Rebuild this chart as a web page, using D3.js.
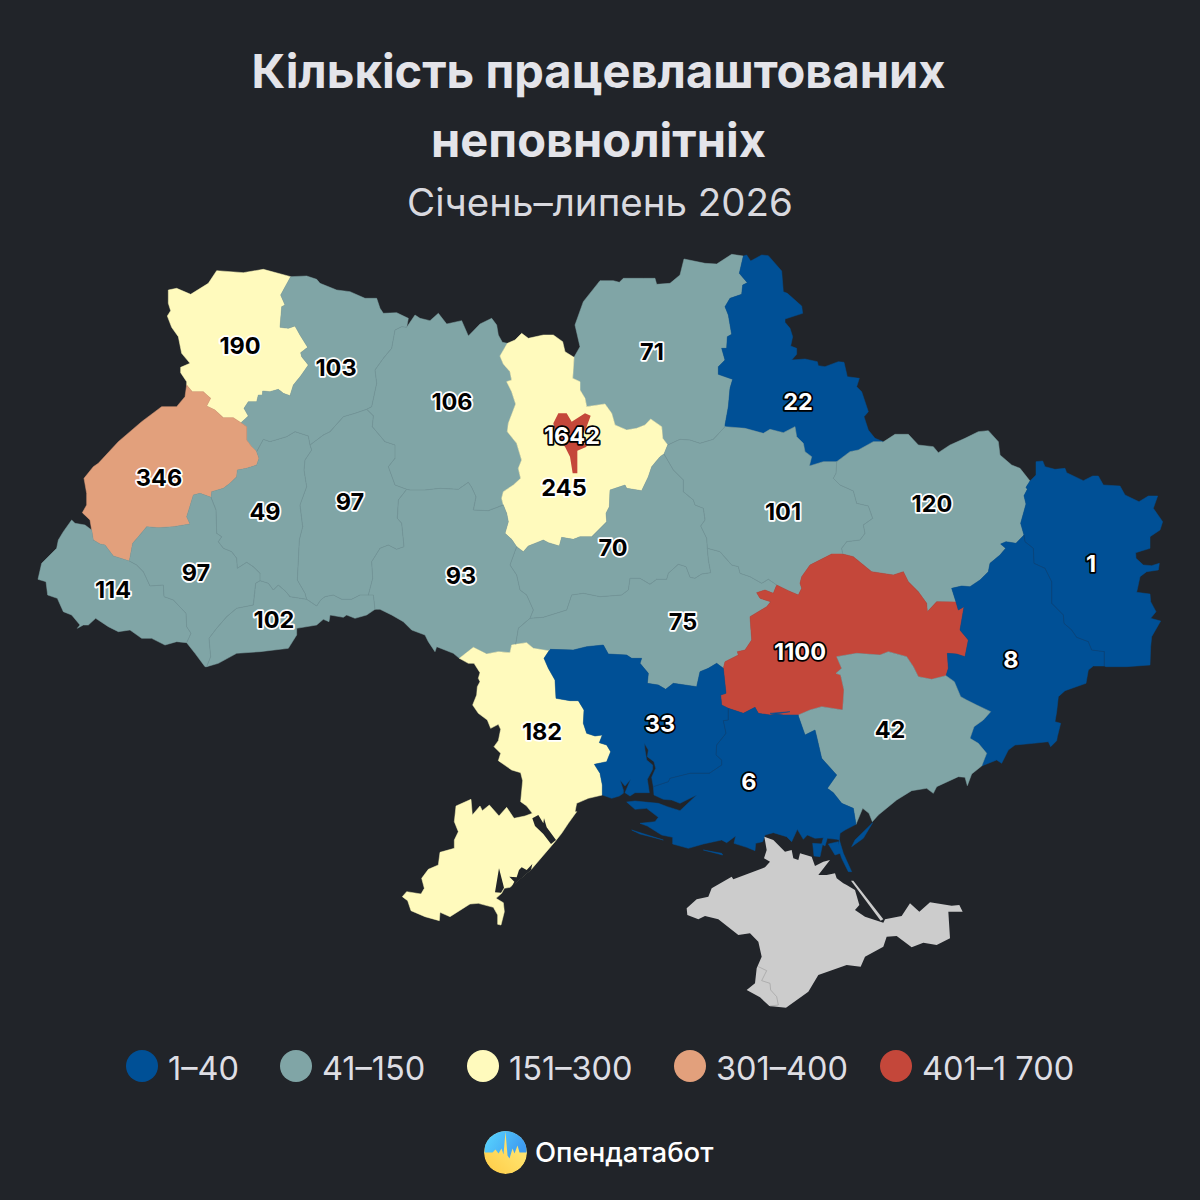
<!DOCTYPE html>
<html>
<head>
<meta charset="utf-8">
<script src="https://cdn.jsdelivr.net/npm/d3@7"></script>
<style>
  html, body { margin: 0; padding: 0; background: #212429; }
  svg { display: block; }
  text { font-family: Inter, "Noto Sans", sans-serif; }
</style>
</head>
<body>
<svg id="chart" width="1200" height="1200"></svg>
<script>
// values
const titleLines = ['Кількість працевлаштованих', 'неповнолітніх'];
const subtitle = 'Січень–липень 2026';
const brand = 'Опендатабот';
const legendLabels = ['1–40', '41–150', '151–300', '301–400', '401–1 700'];
const bucketBreaks = [41, 151, 301, 401];
const bucketColors = ['#005096', '#80A5A6', '#FFFABD', '#E2A07C', '#C4473A'];
const noDataColor = '#CCCCCC';

const regionNames = ['Волинська', 'Рівненська', 'Житомирська', 'Чернігівська', 'Сумська', 'Львівська', 'Тернопільська', 'Хмельницька', 'Київська', 'Полтавська', 'Харківська', 'Луганська', 'Черкаська', 'Закарпатська', 'Івано-Франківська', 'Вінницька', 'Чернівецька', 'Кіровоградська', 'Дніпропетровська', 'Донецька', 'Одеська', 'Миколаївська', 'Запорізька', 'Херсонська'];
const regionValues = [190, 103, 106, 71, 22, 346, 49, 97, 245, 101, 120, 1, 70, 114, 97, 93, 102, 75, 1100, 8, 182, 33, 42, 6];
const kyivCityValue = 1642;

const crop = (ox, oy) => pts => pts.map(([x, y]) => [ox + x / 3, oy + y / 3]);
const z1 = crop(30, 250), z2 = crop(370, 250), z3 = crop(770, 400), z4 = crop(400, 630),
  z5 = crop(670, 640), z8 = crop(700, 245), z9 = crop(650, 420),
  z10 = crop(590, 740), z11 = crop(395, 790);

const arcs = {
  volynOuter: z1([[782,80],[700,58],[640,68],[560,62],[535,100],[482,133],[440,115],[415,120],[415,160],[422,182],[412,198],[425,232],[445,260],[455,310],[480,340],[452,352],[452,368],[470,395],[470,405]]),
  volynLviv: z1([[470,405],[487,425],[520,425],[542,445],[530,468],[555,480],[580,503],[610,503],[633,518]]),
  volynRivne: z1([[633,518],[655,498],[642,475],[655,455],[680,455],[685,435],[697,435],[698,423],[720,425],[745,418],[760,430],[780,437],[790,405],[812,378],[835,345],[815,320],[812,308],[833,292],[810,255],[795,228],[775,235],[750,232],[755,170],[765,165],[752,135],[782,80]]),
  lvivOuter: z1([[470,405],[465,440],[440,470],[395,470],[375,485],[335,515],[265,575],[205,640],[190,650],[162,685],[170,730],[170,765],[157,788],[180,810],[185,840]]),
  lvivZak: z1([[185,840],[190,870],[210,882],[225,885],[250,918],[298,933]]),
  lvivIF: z1([[298,933],[308,880],[325,860],[350,830],[385,833],[430,830],[480,822],[470,800],[480,768],[490,735],[510,730],[543,742]]),
  lvivTern: z1([[543,742],[545,725],[580,715],[600,700],[620,680],[622,660],[650,655],[680,645],[687,625],[680,605]]),
  lvivRivne: z1([[680,605],[665,590],[650,570],[650,530],[633,518]]),
  rivneN: z1([[782,80],[830,78],[860,88],[870,100],[920,120],[960,125],[1005,145],[1040,145],[1050,175],[1060,190],[1100,188],[1135,205],[1130,232]]),
  rivneZhyt: z1([[1130,232],[1115,230],[1095,240],[1085,295],[1060,325],[1035,360],[1040,400],[1025,470],[1010,478]]),
  rivneKhm: z1([[840,585],[880,555],[900,545],[940,500],[975,490],[1010,478]]),
  rivneTern: z1([[680,605],[700,568],[720,575],[770,560],[795,545],[835,558],[840,585]]),
  ternKhm: z1([[840,585],[845,600],[825,630],[822,660],[830,710],[810,765],[818,830],[808,870],[802,990],[825,1030],[830,1048]]),
  khmZhyt: z1([[1010,478],[1030,497],[1027,530],[1065,575],[1095,585],[1095,625],[1075,650],[1095,705],[1130,718]]),
  khmVin: z1([[1130,718],[1105,750],[1102,805],[1115,820],[1122,890],[1100,898],[1075,885],[1050,895],[1025,935],[1028,985],[1015,1035]]),
  khmChern: z1([[830,1048],[860,1068],[872,1050],[885,1040],[910,1035],[935,1048],[965,1048],[990,1035],[1015,1035]]),
  ternChern: z1([[690,992],[715,1000],[730,1020],[745,1005],[768,1025],[780,1040],[830,1048]]),
  ifTern: z1([[543,742],[558,780],[560,850],[575,860],[565,875],[580,895],[605,905],[620,925],[622,955],[650,937],[670,950],[690,970],[690,992]]),
  ifChern: z1([[690,992],[677,1000],[670,1065],[620,1075],[590,1100],[560,1135],[537,1165],[542,1220],[530,1250]]),
  ifSouth: z1([[470,1178],[495,1210],[525,1250],[530,1250]]),
  zakIF: z1([[298,933],[320,945],[340,965],[360,1008],[400,1005],[402,1040],[430,1050],[468,1090],[470,1130],[483,1150],[470,1178]]),
  zakOuter: z1([[185,840],[165,825],[135,820],[125,810],[100,845],[85,870],[80,895],[35,940],[24,988],[48,995],[53,1035],[82,1045],[100,1085],[125,1095],[150,1125],[142,1135],[160,1125],[175,1125],[197,1105],[235,1130],[265,1145],[300,1140],[335,1165],[365,1165],[405,1185],[440,1175],[470,1178]]),
  chernVin: z1([[1015,1035],[1030,1035],[1035,1078]]),
  chernS: z1([[1035,1078],[1010,1095],[975,1105],[950,1095],[940,1102],[900,1095],[897,1115],[880,1108],[860,1125],[800,1135],[800,1155],[775,1195],[690,1205],[620,1210],[565,1240],[530,1250]]),
  zhytN: z2([[110,232],[135,195],[150,205],[180,212],[205,190],[230,222],[275,212],[295,258],[330,222],[365,205],[380,225],[385,255],[397,277],[412,280]]),
  zhytKyiv: z2([[412,280],[390,318],[400,342],[420,365],[425,390],[410,395],[425,425],[437,462],[415,520],[412,545],[440,580],[455,630],[445,655],[452,685],[430,705],[400,725],[395,745],[400,765]]),
  zhytVin: z2([[110,718],[120,720],[165,720],[210,715],[265,718],[295,697],[305,712],[318,740],[310,780],[355,782],[400,765]]),
  vinKyiv: z2([[400,765],[410,790],[415,815],[405,850],[425,868],[440,890]]),
  vinCherk: z2([[440,890],[420,945],[440,975],[450,1020],[470,1035],[490,1080],[480,1105]]),
  vinKir: z2([[480,1105],[445,1135],[437,1183]]),
  vinOdesa: z2([[437,1183],[425,1185],[420,1208],[385,1205],[350,1212],[310,1192],[268,1225]]),
  vinS: z2([[268,1225],[250,1210],[200,1190],[195,1205],[175,1175],[165,1155],[125,1140],[100,1115],[65,1095],[30,1078],[15,1078]]),
  kyivCherk: z2([[440,890],[460,905],[475,888],[500,878],[520,870],[535,878],[568,888],[575,862],[610,868],[630,860],[665,860],[710,815],[708,790],[718,770],[720,720],[765,705],[770,715],[815,722],[835,680],[845,650],[870,620],[882,612]]),
  kyivPolt: z2([[882,612],[893,585]]),
  chernKyiv: z2([[893,585],[878,565],[875,530],[842,507],[825,525],[800,535],[770,540],[735,525],[725,490],[705,462],[650,470],[645,445],[630,420],[630,395],[608,385],[612,322]]),
  kyivN: z2([[412,280],[435,270],[455,250],[475,265],[520,255],[550,255],[578,275],[585,305],[612,322]]),
  chernN: z2([[612,322],[630,290],[615,225],[640,155],[690,92],[730,92],[748,97],[760,85],[820,85],[855,85],[860,103],[900,100],[930,75],[942,27],[1005,40],[1040,42],[1085,13],[1120,18]]),
  chernSumy: z8([[130,33],[118,85],[142,113],[128,120],[125,148],[90,160],[75,185],[85,210],[95,268],[82,275],[80,310],[65,310],[75,345],[55,365],[55,388],[98,403],[90,430],[85,485],[75,540]]),
  sumyN: z8([[130,33],[140,30],[152,48],[185,30],[205,32],[245,78],[250,140],[262,145],[305,183],[308,205],[255,222],[255,232],[270,250],[278,275],[272,303],[290,310],[290,328],[275,345],[315,342],[352,350],[355,362],[375,365],[415,350],[432,352],[442,395],[478,400],[470,425],[485,440],[505,500],[492,515],[505,555],[525,580],[550,590]]),
  sumyPolt: z9([[225,20],[285,25],[340,40],[360,28],[400,38],[435,20],[440,50],[460,70],[465,95],[485,110],[478,138],[520,125],[560,125]]),
  sumyKh: z9([[560,125],[600,95],[625,90],[670,65],[697,65]]),
  chernPolt: z9([[53,75],[90,58],[120,60],[150,70],[190,58],[225,20]]),
  poltKh: z9([[560,125],[558,160],[550,175],[570,195],[610,213],[620,250],[655,258],[668,295],[640,315],[645,340],[630,360],[590,365],[575,385],[578,402]]),
  poltDnipro: z9([[578,402],[545,402],[480,435],[455,470],[450,490],[455,505],[445,525],[415,512],[380,495]]),
  poltKir: z9([[380,495],[355,478],[335,490],[300,470],[270,460],[265,440],[245,435],[210,395],[172,385]]),
  cherkPolt: z9([[42,102],[70,150],[100,180],[100,215],[130,240],[135,255],[160,265],[165,300],[152,318],[170,355],[172,385]]),
  cherkKir: z9([[172,385],[175,420],[182,458],[155,462],[135,475],[120,472],[108,440],[85,433],[55,460],[50,478],[20,478],[0,493]]).concat(z2([[810,985],[780,985],[775,1020],[755,1035],[690,1040],[640,1030],[605,1035],[590,1080],[520,1102],[480,1105]])),
  kirDnipro: z9([[380,495],[370,520],[345,510],[320,518],[330,535],[362,545],[350,560],[300,590],[305,660],[285,690],[262,695]]).concat(z4([[1015,75],[975,95],[970,115]])),
  mykKir: z4([[450,58],[520,60],[560,50],[610,45],[625,72],[680,75],[695,85],[725,85],[720,100],[745,130],[742,160],[775,165],[797,178],[820,160],[890,170],[900,125],[925,115],[950,100],[970,115]]),
  kirOdesa: z2([[540,1203],[490,1195],[470,1178],[437,1183]]),
  mykDnipro: z4([[970,115],[978,190],[962,195],[965,225],[985,235]]),
  kherDnipro: z4([[985,235],[1030,250],[1065,232],[1075,250],[1110,255],[1170,245]]).concat(z3([[0,940],[40,945],[85,945]])),
  zapDnipro: z3([[85,945],[120,930],[155,920],[218,930],[222,870],[212,825],[198,820],[215,805],[200,770],[260,760],[330,765],[355,755],[410,770],[430,800],[445,830],[485,838],[528,827]]),
  dniproDon: z3([[528,827],[535,805],[532,760],[560,762],[585,770],[595,720],[570,690],[582,620],[565,630],[558,606]]),
  khDnipro: z3([[218,462],[250,470],[305,515],[370,525],[400,515],[415,545],[445,575],[470,610],[472,635],[500,605],[558,606]]),
  khExt: z3([[338,127],[375,103],[415,103],[445,135],[490,140],[505,158],[540,135],[585,115],[625,95],[655,92],[685,125],[690,165],[725,195],[750,205],[780,243]]),
  khLu: z3([[780,243],[768,262],[772,268],[762,287],[768,312],[752,370],[762,405]]),
  khDon: z3([[762,405],[738,430],[708,425],[692,432],[707,445],[690,465],[660,490],[655,515],[630,540],[600,560],[575,558],[545,565],[558,606]]),
  luDon: z3([[762,405],[765,425],[790,445],[792,490],[825,505],[845,545],[845,610],[880,645],[882,670],[905,690],[920,712],[955,725],[965,750],[1003,755],[1003,798]]),
  luExt: z3([[780,243],[798,225],[798,185],[818,183],[825,200],[855,208],[885,205],[890,218],[940,242],[968,228],[985,228],[1000,255],[1050,258],[1065,285],[1107,305],[1135,288],[1163,288],[1150,325],[1178,365],[1170,390],[1140,410],[1140,445],[1097,458],[1098,475],[1120,495],[1145,497],[1168,490],[1165,510],[1130,515],[1110,530],[1100,577],[1140,582],[1142,605],[1158,635],[1142,655],[1172,663],[1145,710],[1142,740],[1140,795],[1070,800],[1008,800],[1003,798]]),
  donExt: z3([[1003,798],[970,798],[955,810],[948,850],[885,872],[865,890],[860,935],[855,965],[872,970],[862,1010],[860,1022],[842,1040],[835,1025],[790,1030],[735,1035],[715,1050],[695,1090],[680,1080],[635,1098]]),
  donZap: z3([[635,1098],[650,1060],[625,1030],[600,1015],[612,980],[640,960],[662,935],[620,915],[590,900],[572,890],[553,845],[528,827]]),
  zapCoast: z5([[935,378],[905,402],[892,437],[885,412],[865,410],[800,440],[790,460],[770,445],[725,452],[680,480],[625,525],[607,545],[597,520],[578,505],[558,553]]),
  kherZap: z5([[385,228],[405,285],[435,270],[440,290],[455,355],[500,405],[472,445],[490,458],[515,490],[550,505],[558,553]]),
  mykOd: z4([[607,495],[607,465],[600,430],[583,403],[620,395],[632,365],[620,345],[598,338],[607,315],[585,318],[560,310],[550,280],[552,240],[535,212],[510,212],[468,205],[465,150],[445,115],[432,85],[450,58]]),
  odExt: z4([[178,85],[205,100],[222,100],[240,128],[235,145],[240,155],[232,170],[230,195],[218,225],[235,250],[262,270],[272,295],[295,283],[302,298],[298,318],[295,332],[282,350],[302,370],[295,392],[335,420],[362,428],[368,452],[362,515]])
    .concat(z11([[395,48],[412,70],[390,78],[357,85],[335,52],[312,78],[283,45],[262,62],[255,48],[232,75],[228,28],[183,48],[178,95],[190,125],[178,150],[178,175],[135,187],[130,225],[100,238],[80,265],[88,295],[78,312],[35,305],[22,320],[38,332],[48,362],[90,380],[133,392],[135,367],[165,380],[225,342],[250,340],[295,352],[308,375],[308,403],[318,405],[328,365],[325,338],[303,325],[320,310],[328,295],[345,292],[410,237],[480,155],[500,130],[520,100],[545,65]]))
    .concat(z4([[525,545],[530,520],[565,505],[607,495]])),
  mykKher: z4([[985,235],[985,270],[970,272],[978,310]]).concat(z10([[380,15],[378,45],[395,60],[395,75],[358,100],[300,100],[240,115],[235,125],[190,140]])),
  mykCoast: z10([[190,140],[185,112],[197,85],[192,65],[172,50],[175,30],[163,10],[165,30],[170,60],[188,75],[188,88],[172,118],[178,158],[135,158],[120,168],[105,158],[122,118],[105,138],[90,120],[100,150],[100,160],[88,168],[65,175],[37,165]]),
  kherCoast: z10([[190,140],[192,165],[220,178],[245,180],[270,190],[320,165],[270,212],[232,200],[205,190],[135,183],[110,186],[135,208],[170,205],[205,232],[195,245],[150,250],[172,258],[215,285],[248,292],[248,312],[295,325],[340,312],[395,300],[410,308],[437,288],[432,310],[470,322],[495,332],[497,310],[518,305],[525,285],[550,278],[590,290],[605,305],[622,268],[640,298],[652,285],[675,295],[700,293],[695,312],[705,318],[712,295],[740,298],[748,300],[750,280],[765,270],[798,253]])
};

// rings as arc chains, "-" walks an arc backwards; same order as regionNames
const regionRings = [
  ['volynOuter', 'volynLviv', 'volynRivne'],
  ['rivneN', 'rivneZhyt', '-rivneKhm', '-rivneTern', 'lvivRivne', 'volynRivne'],
  ['rivneZhyt', 'khmZhyt', 'zhytVin', '-zhytKyiv', '-zhytN'],
  ['chernN', 'chernSumy', '-chernPolt', 'chernKyiv'],
  ['sumyN', '-sumyKh', '-sumyPolt', '-chernSumy'],
  ['lvivOuter', 'lvivZak', 'lvivIF', 'lvivTern', 'lvivRivne', '-volynLviv'],
  ['rivneTern', 'ternKhm', '-ternChern', '-ifTern', 'lvivTern'],
  ['rivneKhm', 'khmZhyt', 'khmVin', '-khmChern', '-ternKhm'],
  ['zhytKyiv', 'vinKyiv', 'kyivCherk', 'kyivPolt', 'chernKyiv', '-kyivN'],
  ['kyivPolt', 'chernPolt', 'sumyPolt', 'poltKh', 'poltDnipro', 'poltKir', '-cherkPolt'],
  ['sumyKh', 'khExt', 'khLu', 'khDon', '-khDnipro', '-poltKh'],
  ['khLu', 'luDon', '-luExt'],
  ['kyivCherk', 'cherkPolt', 'cherkKir', '-vinCherk'],
  ['lvivZak', 'zakIF', '-zakOuter'],
  ['lvivIF', 'ifTern', 'ifChern', '-ifSouth', '-zakIF'],
  ['zhytVin', 'vinKyiv', 'vinCherk', 'vinKir', 'vinOdesa', 'vinS', '-chernVin', '-khmVin'],
  ['ternChern', 'khmChern', 'chernVin', 'chernS', '-ifChern'],
  ['-cherkKir', '-poltKir', 'kirDnipro', '-mykKir', 'kirOdesa', '-vinKir'],
  ['khDnipro', '-dniproDon', '-zapDnipro', '-kherDnipro', '-mykDnipro', '-kirDnipro', '-poltDnipro'],
  ['dniproDon', '-khDon', 'luDon', 'donExt', 'donZap'],
  ['vinOdesa', 'odExt', 'mykOd', 'kirOdesa'],
  ['mykKir', 'mykDnipro', 'mykKher', 'mykCoast', 'mykOd'],
  ['zapDnipro', '-donZap', 'zapCoast', '-kherZap'],
  ['kherDnipro', 'kherZap', '-kherCoast', '-mykKher']
];

// bits of Kherson oblast that do not touch the main body: spits and Sivash lobes
const khersonExtras = [
  z10([[668,310],[698,312],[690,350],[672,348]]),
  z10([[715,312],[745,305],[750,340],[735,345]]),
  z10([[748,300],[760,340],[785,395],[775,395],[755,355],[745,325]]),
  z5([[608,548],[580,595],[545,620],[555,600]]),
  z10([[125,270],[220,300],[150,282]]),
  z10([[340,330],[395,340],[398,345]])
];
const waters = [
  z11([[412,85],[430,75],[445,100],[447,85],[455,112],[483,150],[468,162],[445,132],[420,108]]),
  z11([[343,260],[365,262],[372,240],[380,232],[395,240],[412,222],[408,240],[350,290],[358,275]]),
  z11([[300,307],[312,235],[327,293],[318,308]])
];
const kyivCityRing = z2([[550,520],[565,490],[590,490],[605,515],[645,490],[662,497],[650,530],[632,565],[650,590],[622,602],[622,670],[608,670],[600,620],[585,590],[558,560]]);
const crimeaRing = z5([[283,590],[290,630],[282,655],[300,665],[285,682],[190,718],[185,710],[125,745],[115,770],[80,778],[50,805],[52,825],[85,838],[105,828],[145,838],[205,885],[240,880],[265,905],[275,950],[260,985],[255,1030],[230,1050],[270,1072],[298,1098],[348,1103],[415,1055],[445,1005],[530,975],[572,980],[585,950],[640,920],[650,890],[680,888],[725,922],[760,908],[800,915],[840,895],[835,815],[878,815],[868,795],[845,797],[780,787],[748,815],[720,790],[695,828],[645,838],[640,848],[585,830],[555,810],[568,795],[555,750],[530,735],[520,730],[500,715],[495,700],[470,705],[445,705],[480,660],[460,665],[435,678],[425,650],[390,640],[385,660],[370,655],[365,630],[345,635],[310,600]]);
const arabatSpit = z5([[543,722],[550,722],[640,838],[632,842]]);
const sevastopolLine = z5([[265,980],[290,992],[275,1022],[300,1030],[302,1050],[320,1070],[325,1095],[300,1098]]);

// borders that show between neighbours of the same colour
const tealBorders = ['rivneTern', 'rivneKhm', 'rivneZhyt', 'ternKhm', 'ternChern', 'ifTern', 'ifChern', 'zakIF', 'khmZhyt', 'khmVin', 'khmChern', 'chernVin', 'zhytVin', 'vinCherk', 'vinKir', 'cherkKir', 'cherkPolt', 'chernPolt', 'poltKir', 'poltKh'];
const blueBorders = ['luDon', 'mykKher'];

// label anchors in map units, same order as regionNames
const labelAnchors = [[240,346],[336,368],[452,402],[652,352],[798,402],[159,478],[265,512],[350,502],[564,488],[783,512],[932,504],[1091,564],[613,548],[113,590],[196,573],[461,576],[274,620],[683,622],[800,652],[1011,660],[542,732],[660,724],[890,730],[749,782]];
const kyivCityAnchor = [572,436];

const legendDotX = [142, 296, 483, 690, 896];
const pulse = [[-21,0],[-13,0],[-10,-3],[-7,1],[-4,-4],[-2,2],[0,-21],[2,3],[4,6],[7,-4],[9,1],[12,-7],[14,0],[21,0]];

const svg = d3.select('#chart');
const color = d3.scaleThreshold().domain(bucketBreaks).range(bucketColors);
const path = d3.geoPath();

function stitch(refs) {
  let ring = [];
  refs.forEach(function(ref) {
    const back = ref[0] === '-';
    const pts = arcs[back ? ref.slice(1) : ref];
    ring = ring.concat(back ? pts.slice().reverse() : pts);
  });
  ring.push(ring[0]);
  return ring;
}
const closed = r => r.concat([r[0]]);
const poly = rings => ({ type: 'MultiPolygon', coordinates: rings.map(r => [closed(r)]) });
const line = pts => ({ type: 'LineString', coordinates: pts });

svg.append('rect').attr('width', 1200).attr('height', 1200).attr('fill', '#212429');

// titles
svg.selectAll('text.title').data(titleLines).enter().append('text')
  .attr('class', 'title')
  .attr('x', 598.5)
  .attr('y', (d, i) => 88 + i * 69)
  .attr('text-anchor', 'middle')
  .attr('fill', '#E4E4E9')
  .attr('font-size', 47)
  .attr('font-weight', 700)
  .text(d => d);
svg.append('text')
  .attr('x', 600).attr('y', 216)
  .attr('text-anchor', 'middle')
  .attr('fill', '#D9D9DF')
  .attr('font-size', 38.5)
  .attr('font-weight', 400)
  .text(subtitle);

// map
const map = svg.append('g');
map.selectAll('path.region').data(regionNames).enter().append('path')
  .attr('class', 'region')
  .attr('d', (d, i) => {
    const rings = [stitch(regionRings[i])];
    return path(poly(d === 'Херсонська' ? rings.concat(khersonExtras) : rings));
  })
  .attr('fill', (d, i) => color(regionValues[i]))
  .attr('stroke', (d, i) => color(regionValues[i]))
  .attr('stroke-width', 0.5)
  .attr('stroke-linejoin', 'round');

map.append('path').attr('d', path(poly(waters))).attr('fill', '#212429');
map.append('path').attr('d', path(poly([crimeaRing, arabatSpit]))).attr('fill', noDataColor);
map.append('path').attr('d', path(line(sevastopolLine))).attr('fill', 'none').attr('stroke', '#9a9a9a').attr('stroke-width', 0.6);

tealBorders.forEach(function(a) {
  map.append('path').attr('d', path(line(arcs[a]))).attr('fill', 'none').attr('stroke', '#6F9093').attr('stroke-width', 0.6);
});
blueBorders.forEach(function(a) {
  map.append('path').attr('d', path(line(arcs[a]))).attr('fill', 'none').attr('stroke', '#0F3F6E').attr('stroke-width', 0.6);
});
map.append('path').attr('d', path(poly([kyivCityRing]))).attr('fill', color(kyivCityValue));

// labels: white on the dark buckets, black elsewhere
const isDark = v => v < bucketBreaks[0] || v >= bucketBreaks[3];
const labelData = regionValues.map((v, i) => ({ v: v, at: labelAnchors[i] })).concat([{ v: kyivCityValue, at: kyivCityAnchor }]);
svg.selectAll('text.value').data(labelData).enter().append('text')
  .attr('class', 'value')
  .attr('x', d => d.at[0])
  .attr('y', d => d.at[1])
  .attr('dy', '0.36em')
  .attr('text-anchor', 'middle')
  .attr('font-size', 23.5)
  .attr('font-weight', 700)
  .attr('paint-order', 'stroke')
  .attr('stroke-width', 3.5)
  .attr('stroke-linejoin', 'round')
  .attr('fill', d => isDark(d.v) ? '#fff' : '#000')
  .attr('stroke', d => isDark(d.v) ? '#000' : '#fff')
  .text(d => d.v);

// legend
const legend = svg.selectAll('g.legend').data(legendLabels).enter().append('g')
  .attr('class', 'legend')
  .attr('transform', (d, i) => 'translate(' + legendDotX[i] + ',1066)');
legend.append('circle').attr('r', 16).attr('fill', (d, i) => bucketColors[i]);
legend.append('text')
  .attr('x', 26).attr('y', 14)
  .attr('fill', '#DEDEE4')
  .attr('font-size', 32.5)
  .text(d => d);

// logo
const defs = svg.append('defs');
const skyGrad = defs.append('linearGradient').attr('id', 'sky').attr('x1', 0).attr('x2', 1).attr('y1', 0).attr('y2', 0.4);
skyGrad.append('stop').attr('offset', 0).attr('stop-color', '#5AD8FF');
skyGrad.append('stop').attr('offset', 1).attr('stop-color', '#3E9BF0');
const wheatGrad = defs.append('linearGradient').attr('id', 'wheat').attr('x1', 0).attr('x2', 1).attr('y1', 1).attr('y2', 0);
wheatGrad.append('stop').attr('offset', 0).attr('stop-color', '#FFCB45');
wheatGrad.append('stop').attr('offset', 1).attr('stop-color', '#FFEE80');
defs.append('clipPath').attr('id', 'logoClip').append('circle').attr('r', 21.5);

const logo = svg.append('g').attr('transform', 'translate(505.5,1152.5)').attr('clip-path', 'url(#logoClip)');
logo.append('circle').attr('r', 21.5).attr('fill', 'url(#wheat)');
const area = d3.area().x(d => d[0]).y0(-22).y1(d => d[1]);
logo.append('path').attr('d', area(pulse)).attr('fill', 'url(#sky)');
svg.append('text')
  .attr('x', 535).attr('y', 1162)
  .attr('fill', '#FFFFFF')
  .attr('font-size', 27.5)
  .attr('font-weight', 500)
  .text(brand);
</script>
</body>
</html>
